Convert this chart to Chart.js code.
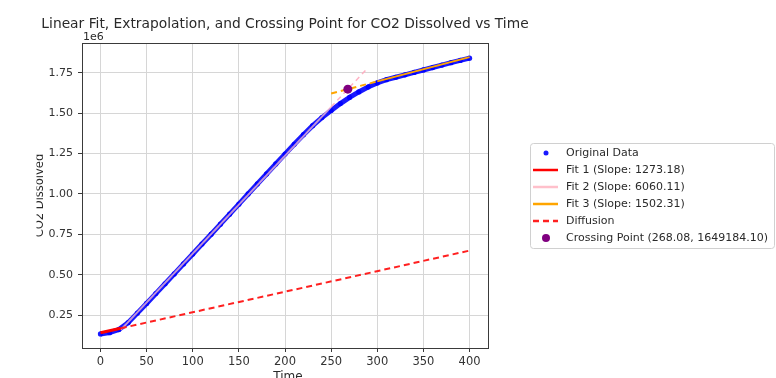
<!DOCTYPE html>
<html>
<head>
<meta charset="utf-8">
<title>CO2 Dissolved vs Time</title>
<script src="https://cdn.jsdelivr.net/npm/chart.js@4.4.0/dist/chart.umd.min.js"></script>
<style>
  html, body { margin: 0; padding: 0; background: #fff; }
  canvas { display: block; }
</style>
</head>
<body>
<canvas id="co2Chart" width="776" height="378"></canvas>
<script>
// Measured CO2, sampled every 10 time units
const times = [0, 10, 20, 30, 40, 50, 60, 70, 80, 90, 100, 110, 120, 130, 140, 150, 160, 170, 180, 190,
    200, 210, 220, 230, 240, 250, 260, 270, 280, 290, 300, 310, 320, 330, 340, 350, 360, 370, 380, 390, 400];
const co2 = [133000, 141000, 160000, 203000, 262000, 322000, 383000, 444000, 505000, 567000,
    628000, 690000, 751000, 813000, 875000, 937000, 1000000, 1062000, 1124000, 1186000,
    1247000, 1308000, 1367000, 1423000, 1473000, 1517000, 1560000, 1598000, 1632000, 1662000,
    1688000, 1708000, 1723000, 1738000, 1753000, 1768000, 1783000, 1798000, 1813000, 1827000, 1841000];

const xTicks = [0, 50, 100, 150, 200, 250, 300, 350, 400];
const yTicks = [250000, 500000, 750000, 1000000, 1250000, 1500000, 1750000];

// Regression results
const fitSlopes = [1273.18, 6060.11, 1502.31];
const fit1Intercept = 140000;
const crossing = [268.08, 1649184.10];

// Time spans of each fitted segment and its dashed extrapolation
const fit1Range = [0, 22];
const fit2Range = [22, 250];
const fit2Extension = [250, 288];
const fit3Range = [300, 400];
const fit3Extension = [250, 300];
const diffusionRange = [22, 400];

// fit 2 and fit 3 both pass through the crossing point
const fit2Intercept = crossing[1] - fitSlopes[1] * crossing[0];
const fit3Intercept = crossing[1] - fitSlopes[2] * crossing[0];

function fitLine(slope, intercept, range) {
    return range.map(t => ({ x: t, y: slope * t + intercept }));
}

const FONT = 'DejaVu Sans';
Chart.defaults.font.family = FONT;

// Title, axis labels, offset text, frame and legend
const decorations = {
    id: 'decorations',
    afterDatasetsDraw(chart) {
        const { ctx, chartArea: a } = chart;
        ctx.save();
        ctx.strokeStyle = '#3a3a3a';
        ctx.lineWidth = 1;
        ctx.strokeRect(Math.round(a.left) + 0.5, Math.round(a.top) + 0.5,
            Math.round(a.right - a.left), Math.round(a.bottom - a.top));
        ctx.restore();
    },
    afterDraw(chart) {
        const { ctx, chartArea: a } = chart;
        const mid = (a.left + a.right) / 2;
        ctx.save();
        ctx.fillStyle = '#2a2a2a';

        ctx.font = '13.8px ' + FONT;
        ctx.textAlign = 'center';
        ctx.textBaseline = 'alphabetic';
        ctx.fillText('Linear Fit, Extrapolation, and Crossing Point for CO2 Dissolved vs Time', mid, 28);

        ctx.font = '11px ' + FONT;
        ctx.textAlign = 'left';
        ctx.fillText('1e6', a.left + 1, a.top - 3);

        ctx.font = '12px ' + FONT;
        ctx.textAlign = 'center';
        ctx.textBaseline = 'top';
        ctx.fillText('Time', mid + 3, 371);

        // y label sits against the left edge of the canvas
        ctx.save();
        ctx.beginPath();
        ctx.rect(36.5, 0, 100, chart.height);
        ctx.clip();
        ctx.translate(43, (a.top + a.bottom) / 2);
        ctx.rotate(-Math.PI / 2);
        ctx.textBaseline = 'alphabetic';
        ctx.font = '11.5px ' + FONT;
        ctx.fillText('CO2 Dissolved', 0, 0);
        ctx.restore();

        // legend
        const items = chart.data.datasets.filter(d => d.label);
        const bx = 530.5, by = 143.5, bw = 244, bh = 105;
        ctx.beginPath();
        ctx.roundRect(bx, by, bw, bh, 3);
        ctx.fillStyle = 'rgba(255,255,255,0.85)';
        ctx.fill();
        ctx.strokeStyle = '#d0d0d0';
        ctx.lineWidth = 1;
        ctx.stroke();

        ctx.font = '11px ' + FONT;
        ctx.textAlign = 'left';
        ctx.textBaseline = 'middle';
        items.forEach((d, i) => {
            const y = 153 + i * 17;
            if (d.showLine === false) {
                ctx.beginPath();
                ctx.arc(546, y, d.legendRadius, 0, Math.PI * 2);
                ctx.fillStyle = d.pointBackgroundColor;
                ctx.fill();
            } else {
                ctx.beginPath();
                ctx.setLineDash(d.borderDash || []);
                ctx.moveTo(533, y);
                ctx.lineTo(558, y);
                ctx.strokeStyle = d.legendColor || d.borderColor;
                ctx.lineWidth = 2.5;
                ctx.stroke();
                ctx.setLineDash([]);
            }
            ctx.fillStyle = '#2a2a2a';
            ctx.fillText(d.label, 566, y + 0.5);
        });
        ctx.restore();
    }
};

const tickFont = { family: FONT, size: 11.5 };

new Chart(document.getElementById('co2Chart'), {
    type: 'scatter',
    data: {
        datasets: [
            {
                label: 'Original Data',
                data: times.map((t, i) => ({ x: t, y: co2[i] })),
                showLine: false,
                pointRadius: 2.6,
                pointBorderWidth: 0,
                pointBackgroundColor: 'rgba(0,0,255,0.9)',
                legendRadius: 2.5,
                order: 10
            },
            // the dense samples read as a thick stroke
            {
                data: times.map((t, i) => ({ x: t, y: co2[i] })),
                showLine: true,
                borderColor: 'rgba(0,0,255,0.9)',
                borderWidth: 5,
                pointRadius: 0,
                order: 11
            },
            {
                label: 'Fit 1 (Slope: 1273.18)',
                data: fitLine(fitSlopes[0], fit1Intercept, fit1Range),
                showLine: true,
                borderColor: '#ff0000',
                borderWidth: 3,
                pointRadius: 0,
                order: 4
            },
            {
                label: 'Fit 2 (Slope: 6060.11)',
                data: fitLine(fitSlopes[1], fit2Intercept, fit2Range),
                showLine: true,
                borderColor: 'rgba(255,192,203,0.75)',
                legendColor: '#ffc0cb',
                borderWidth: 2,
                pointRadius: 0,
                order: 5
            },
            {
                label: 'Fit 3 (Slope: 1502.31)',
                data: fitLine(fitSlopes[2], fit3Intercept, fit3Range),
                showLine: true,
                borderColor: '#ffa500',
                borderWidth: 2,
                pointRadius: 0,
                order: 3
            },
            {
                label: 'Diffusion',
                data: fitLine(fitSlopes[0], fit1Intercept, diffusionRange),
                showLine: true,
                borderColor: '#ff2020',
                borderDash: [6, 4],
                borderWidth: 2,
                pointRadius: 0,
                order: 2
            },
            {
                label: 'Crossing Point (268.08, 1649184.10)',
                data: [{ x: crossing[0], y: crossing[1] }],
                showLine: false,
                pointRadius: 4.5,
                pointBorderWidth: 0,
                pointBackgroundColor: '#800080',
                legendRadius: 4,
                order: 0
            },
            // dashed extrapolations
            {
                data: fitLine(fitSlopes[1], fit2Intercept, fit2Extension),
                showLine: true,
                borderColor: 'rgba(255,170,190,0.9)',
                borderDash: [5, 4],
                borderWidth: 1.5,
                pointRadius: 0,
                order: 6
            },
            {
                data: fitLine(fitSlopes[2], fit3Intercept, fit3Extension),
                showLine: true,
                borderColor: '#ffa500',
                borderDash: [6, 4],
                borderWidth: 2,
                pointRadius: 0,
                order: 1
            }
        ]
    },
    options: {
        responsive: false,
        animation: false,
        devicePixelRatio: 1,
        layout: { padding: { top: 43, right: 288, bottom: 0, left: 0 } },
        plugins: {
            legend: { display: false },
            title: { display: false },
            tooltip: { enabled: false }
        },
        scales: {
            x: {
                type: 'linear',
                min: -20,
                max: 420,
                afterBuildTicks: s => { s.ticks = xTicks.map(v => ({ value: v })); },
                afterFit: s => { s.height = 30; },
                border: { display: false },
                grid: { color: '#d6d6d6', lineWidth: 1, tickColor: '#3a3a3a', tickLength: 4 },
                ticks: { color: '#333', font: tickFont, padding: 3, maxRotation: 0 }
            },
            y: {
                type: 'linear',
                min: 46000,
                max: 1935000,
                afterBuildTicks: s => { s.ticks = yTicks.map(v => ({ value: v })); },
                afterFit: s => { s.width = 82; },
                border: { display: false },
                grid: { color: '#d6d6d6', lineWidth: 1, tickColor: '#3a3a3a', tickLength: 4 },
                ticks: {
                    color: '#333',
                    font: { family: FONT, size: 11 },
                    padding: 5,
                    callback: v => (v / 1e6).toFixed(2)
                }
            }
        }
    },
    plugins: [decorations]
});
</script>
</body>
</html>
